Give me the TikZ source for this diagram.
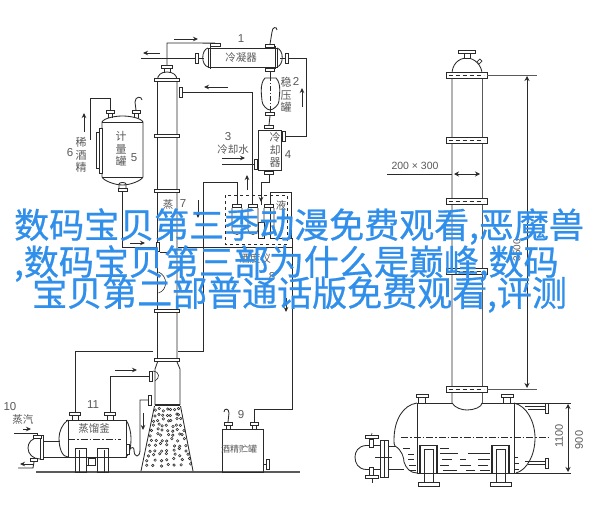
\documentclass[tikz,border=0pt]{standalone}
\usepackage{fontspec}
\setmainfont{Liberation Sans}
\newfontfamily\cjkfont{Noto Sans CJK SC}
\newfontfamily\headfont[FakeBold=0.7]{Noto Sans CJK SC}
\usetikzlibrary{arrows.meta}
\definecolor{ink}{HTML}{2A2A2A}
\definecolor{lbl}{HTML}{5A5A5A}
\definecolor{titleblue}{HTML}{2F8FEA}
\tikzset{
  pipe/.style={draw=ink,line width=0.85pt},
  thin pipe/.style={draw=ink,line width=0.6pt},
  greyline/.style={draw=lbl,line width=1pt},
  flow/.style={draw=ink,line width=0.9pt,-{Stealth[length=5pt,width=4.5pt]}},
  dimen/.style={draw=ink,line width=0.8pt,{Stealth[length=5pt,width=5pt]}-{Stealth[length=5pt,width=5pt]}},
  flange/.style={draw=ink,line width=0.8pt,fill=white,inner sep=0pt,minimum width=#1,minimum height=3pt},
  vflange/.style={draw=ink,line width=0.8pt,fill=white,inner sep=0pt,minimum height=#1,minimum width=3pt},
  band/.style={draw=ink,line width=0.8pt,fill=white,inner sep=0pt,minimum width=41pt,minimum height=6pt},
  cjk/.style={font=\cjkfont\fontsize{10.5}{12}\selectfont,text=lbl,inner sep=0pt},
  vcjk/.style={font=\cjkfont\fontsize{11}{12.6}\selectfont,text=lbl,inner sep=0pt,align=center},
  num/.style={font=\fontsize{11.5}{13}\selectfont,text=lbl,inner sep=0pt},
  headline/.style={font=\headfont\fontsize{35}{38}\selectfont,text=titleblue,inner sep=0pt,anchor=west},
}
\begin{document}
\begin{tikzpicture}[x=1pt,y=-1pt]
\useasboundingbox (0,0) rectangle (604,506);
\fill[white] (0,0) rectangle (604,506);

% ground
\coordinate (gndL) at (36,472);
\coordinate (gndR) at (300,472);
\draw[draw=lbl,line width=1.2pt] (gndL) -- (gndR);

% ---------- main column ----------
\draw[pipe] (157.5,80) .. controls (157.5,75) and (161,72) .. (167,72) .. controls (173,72) and (177,75) .. (177,80);
\draw[pipe] (157.5,80) -- (157.5,362) -- (155,369) -- (155,405);
\draw[pipe] (177,80) -- (177,362) -- (180,369) -- (180,405);
\draw[pipe] (164,68) -- (164,73) (170,68) -- (170,73);
\node[flange=11pt] (coltop) at (167,67) {};
\foreach \y/\n in {80/a,136/b,191/c,311/d,360/e}
  \node[flange=25pt] (colband\n) at (167,\y) {};
\draw[draw=ink,line width=1.3pt] (155,405) -- (180,405);
\draw[pipe] (154.5,406) -- (141,471);
\draw[pipe] (180.5,406) -- (193,471);
\draw[thin pipe] (158.5,272) .. controls (168,276) and (168,290) .. (158.5,293);
\draw[thin pipe] (160,252) -- (170,252);
% packing
\pgfmathsetseed{4242}
\foreach \r in {0,...,11}{
  \pgfmathsetmacro{\yy}{410+\r*5}
  \pgfmathsetmacro{\hw}{13+\r*1.05}
  \foreach \k in {-3,...,3}{
    \pgfmathsetmacro{\xx}{167.5+\k*\hw/3.4+rnd*3-1.5}
    \pgfmathsetmacro{\yz}{\yy+rnd*3-1.5}
    \draw[draw=ink,line width=0.55pt] (\xx,\yz) circle (1.25pt);
  }
}

% ---------- condenser 1 ----------
\node[draw=ink,line width=0.9pt,inner sep=0pt,minimum width=69pt,minimum height=19pt] (cond) at (242.5,57.5) {};
\node[cjk,font=\cjkfont\fontsize{10.5}{12}\selectfont] (condtext) at (241,58) {冷凝器};
\node[num] (n1) at (241,39) {1};
\draw[pipe] (208,48) .. controls (201,50) and (201,65) .. (208,67);
\draw[pipe] (277,48) .. controls (284,50) and (284,65) .. (277,67);
\draw[thin pipe] (210,46) -- (210,69) (275,46) -- (275,69);
\node[vflange=10pt] (condL) at (197,58) {};
\node[vflange=10pt] (condR) at (287,58) {};
\node[flange=10pt] (condT1) at (215,45) {};
\node[flange=9pt] (condT2) at (270,46) {};
\node[flange=9pt] (condB) at (270,70) {};
\draw[pipe] (condL.east) -- (204,58);
\draw[pipe] (condR.west) -- (280,58);
% overhead vapour
\draw[pipe] (coltop.north) -- (167,43) -- (condT1.north);
\coordinate (ventL) at (141,58);
\draw[pipe] (ventL) -- (condL.west);
\draw[flow] (174,39) -- (198,39);
\draw[flow] (160,53) -- (143,53);
% hook
\draw[pipe] (condT2.north) -- (272,32) .. controls (272,27) and (277,26) .. (277,30);
% to cooler
\node[vflange=10pt] (coolR) at (284,136) {};
\draw[pipe] (condR.east) -- (306,58) -- (306,136) -- (coolR.east);
\draw[flow] (302,107) -- (302,88);

% ---------- surge tank 2 ----------
\draw[pipe] (265,78) .. controls (259,84) and (262,98) .. (262,101) .. controls (262,105) and (267,110) .. (270,110) .. controls (273,110) and (279,105) .. (279,101) .. controls (279,96) and (282,84) .. (276,78) -- cycle;
\draw[thin pipe,dash pattern=on 5pt off 2pt on 1pt off 2pt] (270.5,76) -- (270.5,112);
\node[flange=9pt] (surgeB) at (270,114) {};
\draw[pipe] (condB.south) -- (270,78);
\draw[pipe] (surgeB.north) -- (270,110);
\node[vcjk] (surgetext) at (286,95) {稳\\压\\罐};
\node[num] (n2) at (296,81) {2};

% ---------- cooler 4 ----------
\node[draw=ink,line width=0.9pt,inner sep=0pt,minimum width=23pt,minimum height=40pt] (cooler) at (269.5,150) {};
\node[flange=9pt] (coolT) at (269,127) {};
\node[flange=9pt] (coolB) at (269,173) {};
\draw[pipe] (surgeB.south) -- (coolT.north);
\draw[pipe] (coolR.west) -- (cooler.east |- coolR);
\node[vflange=10pt] (coolL) at (256,164) {};
\node[vcjk] (cooltext) at (275,150) {冷\\却\\器};
\node[num] (n4) at (288,155) {4};
\node[num] (n3) at (228,137) {3};
\node[cjk] (watertext) at (233,150) {冷却水};
\coordinate (waterin) at (222,164);
\draw[pipe] (waterin) -- (coolL.west);
\draw[flow] (222,158) -- (245,158);

% return to column
\node[vflange=10pt] (colN1) at (181,92) {};
\draw[pipe] (colN1.east) -- (252,92) -- (252,205);
\draw[flow] (228,87) -- (204,87);
\draw[flow] (247,190) -- (247,175);
\draw[pipe] (coolB.south) -- (269,182) -- (261,182) -- (261,205);
\draw[flow] (261,190) -- (261,202);

% ---------- dashed instrument box ----------
\draw[draw=ink,line width=0.8pt,rounded corners=0pt] (270,192) rectangle (291,238);
\draw[draw=ink,line width=0.9pt,dashed,fill=none] (225,195) rectangle (287,244);
\foreach \x/\n in {237/a,253/b,269/c}{
  \node[flange=9pt] (gauge\n) at (\x,206) {};
  \draw[thin pipe] (\x-5,208) .. controls (\x-5,212) and (\x-5,230) .. (\x-5,230) .. controls (\x-5,236) and (\x+5,236) .. (\x+5,230) -- (\x+5,208);
}
\draw[pipe,fill=white] (258,222) rectangle (264,238);
\node[cjk] (liqtext) at (281,205) {液};
\draw[pipe] (gaugea.north) -- (237,182) -- (203,182) -- (203,351) -- (178,351);
\draw[flow] (198,200) -- (198,218);
\coordinate (gapR) at (153,351);
\draw[pipe] (gapR) -- (75,351) -- (75,414);

% ---------- metering tank 5 ----------
\draw[pipe] (102,122) .. controls (104,118) and (115,116) .. (122.5,116) .. controls (130,116) and (141,118) .. (143,122) -- (143,177) .. controls (141,181) and (130,185) .. (122.5,185) .. controls (115,185) and (104,181) .. (102,177) -- cycle;
\draw[thin pipe] (102,122) -- (143,122) (102,177) -- (143,177);
\draw[pipe,fill=white] (99,128) rectangle (102,173);
\draw[pipe,fill=white] (96.5,132) rectangle (99,168);
\node[flange=8pt] (tank5a) at (110,112) {};
\node[flange=8pt] (tank5b) at (136,112) {};
\draw[pipe] (108,113) -- (108,118) (112,113) -- (112,118);
\draw[pipe] (134,113) -- (134,118) (138,113) -- (138,118);
\node[flange=9pt] (tank5c) at (122.5,190) {};
\draw[pipe] (119,189) -- (119,184) .. controls (119,182) and (126,182) .. (126,184) -- (126,189);
\coordinate (alcoholup) at (90,140);
\draw[pipe] (tank5a.north) -- (110,98) -- (90,98) -- (alcoholup);
\draw[pipe] (tank5b.north) -- (135,102) .. controls (135,96) and (142,96) .. (142,100);
\draw[flow] (84,132) -- (84,113);
\node[vcjk] (tank5text) at (121,149) {计\\量\\罐};
\node[num] (n5) at (134,158) {5};
\node[vcjk] (dilute) at (81,155) {稀\\酒\\精};
\node[num] (n6) at (70,153) {6};
\node[vflange=9pt] (colfeed) at (158,247) {};
\draw[pipe] (tank5c.south) -- (122.5,247) -- (colfeed.west);
\draw[flow] (130,243) -- (145,243);
\draw[pipe] (178,247) -- (292,247);
\node[cjk] (steamtext7) at (168,205) {蒸};
\node[num] (n7) at (183,204) {7};
\node[cjk] (metertext) at (255,258) {酒度仪};
\node[num] (n8) at (272,277) {8};

% ---------- still 11 ----------
\draw[pipe] (68,420) .. controls (62,424) and (59,432) .. (59,438) .. controls (59,450) and (63,457) .. (68,457);
\draw[pipe] (126,420) .. controls (129,424) and (131,432) .. (131,438) .. controls (131,449) and (129,455) .. (126,457);
\draw[pipe] (66,420) -- (127,420);
\draw[pipe] (66,457) -- (127,457);
\draw[pipe] (68,420) -- (68,457) (126,420) -- (126,457);
\draw[draw=ink,line width=0.7pt,dash pattern=on 7pt off 2pt on 1.5pt off 2pt] (68,439) -- (121,439);
\node[font=\cjkfont\fontsize{10.5}{12}\selectfont,text=lbl,inner sep=0pt] (stilltext) at (94,429) {蒸馏釜};
\node[num] (n11) at (93,405) {11};
\node[flange=11pt] (stillA) at (75,414) {};
\node[flange=11pt] (stillB) at (110,414) {};
\draw[pipe] (72,416) -- (72,420) (78,416) -- (78,420);
\draw[pipe] (107,416) -- (107,420) (113,416) -- (113,420);
\draw[pipe] (75,448) rectangle (86,472);
\draw[pipe] (97,448) rectangle (108,472);
\draw[pipe] (79,450) -- (79,472) (104,450) -- (104,472);
\draw[pipe,fill=white] (88,458) rectangle (95,465);
\draw[pipe] (87,465) -- (96,465);
\node[vflange=10pt] (colN2) at (151,376) {};
\draw[pipe] (stillB.north) -- (110,376) -- (colN2.west);
\draw[flow] (115,370) -- (137,370);
% trap
\node[vflange=10pt] (colN3) at (150,400) {};
\node[vflange=10pt] (stillD) at (128,449) {};
\draw[pipe] (colN3.west) -- (140,400) -- (140,450) .. controls (140,458) and (134,458) .. (134,450) .. controls (134,447) and (132,447) .. (stillD.east);
\draw[flow] (143,413) -- (143,430);
% bubble
\draw[thin pipe] (153,371) .. controls (160,372) and (160,378) .. (155,381);
% steam exchanger 10
\draw[pipe] (40,437) .. controls (31,438) and (28,443) .. (28,448) .. controls (28,454) and (33,459) .. (40,459);
\draw[pipe,fill=white] (40,435) rectangle (43,459);
\draw[pipe] (43,441) -- (60,441);
\draw[pipe] (43,457) -- (68,457);
\node[flange=8pt] (hxT) at (37,437) {};
\node[flange=7pt] (hxB) at (34,460) {};
\coordinate (steamin) at (14,433);
\draw[pipe] (steamin) -- (37,433) -- (hxT.north);
\coordinate (condout) at (18,468);
\draw[pipe] (hxB.south) -- (33,468) -- (condout);
\draw[flow] (23,429) -- (31,429);
\draw[flow] (33,464) -- (20,464);
\node[num] (n10) at (10,407) {10};
\node[cjk] (steamtext) at (23,420) {蒸汽};

% ---------- storage tank 9 ----------
\node[draw=ink,line width=0.8pt,inner sep=0pt,minimum width=41pt,minimum height=43pt] (store) at (242.5,450.5) {};
\node[font=\cjkfont\fontsize{9}{10}\selectfont,text=lbl,inner sep=0pt] (storetext) at (239,449) {酒精贮罐};
\node[num] (n9) at (241,415) {9};
\node[flange=8pt] (storeA) at (228,424) {};
\node[flange=8pt] (storeB) at (254,424) {};
\draw[pipe] (226,425) -- (226,429) (230,425) -- (230,429);
\draw[pipe] (252,425) -- (252,429) (256,425) -- (256,429);
\draw[pipe] (storeA.north) -- (229,413) .. controls (229,408) and (224,408) .. (224,412);
\draw[pipe] (storeB.north) -- (254,409) -- (292,409) -- (292,238);
\draw[flow] (286,298) -- (286,312);
\node[vflange=10pt] (storeC) at (268,464) {};
\draw[pipe] (store.east |- storeC) -- (storeC.west);

% ---------- right column ----------
\draw[pipe] (452,74) .. controls (452,65) and (458,58) .. (467,58) .. controls (474,58) and (482,65) .. (482,74);
\draw[pipe] (452,74) -- (452,403) .. controls (455,408) and (462,410) .. (467,410) .. controls (474,410) and (482,407) .. (482,403);
\draw[greyline] (482,74) -- (482,403);
\draw[pipe,fill=white] (464,53) rectangle (470,58.5);
\node[flange=17pt] (rtop) at (466.5,51.5) {};
\draw[thin pipe,fill=white,rotate around={45:(479.5,61.5)}] (477.5,60) rectangle (481.5,63);
\foreach \y/\n in {75/a,140/b,201/c,271/d,389/e}{
  \node[band] (rband\n) at (466.5,\y) {};
  \draw[draw=ink,line width=0.7pt,dashed,dash pattern=on 4pt off 3pt] (rband\n.west) ++(3pt,0) -- ++(35pt,0);
}
\coordinate (dimTop) at (537,75);
\coordinate (dimBot) at (537,389);
\draw[greyline] (rbanda.east) -- (dimTop);
\draw[greyline] (rbande.east) -- (dimBot);
\draw[dimen] (527,76) -- (527,388);
\node[num,rotate=90,font=\fontsize{10}{12}\selectfont] (hlabel) at (517,250) {3500};
\coordinate (lead) at (387,174);
\draw[pipe] (lead) -- (452,174);
\draw[dimen] (454,174) -- (480,174);
\node[font=\fontsize{10.5}{12}\selectfont,text=lbl,inner sep=0pt] (sizetext) at (415,166) {200 × 300};

% ---------- horizontal vessel ----------
\draw[pipe] (417,403) -- (452,403) (482,403) -- (571,403);
\draw[pipe] (417,473) -- (571,473);
\draw[pipe] (417,403) -- (417,473) (514,403) -- (514,473);
\draw[pipe] (417,403) .. controls (403,405) and (394,420) .. (394,440) .. controls (394,443) and (394,445) .. (395,446) .. controls (402,450) and (404,458) .. (404,462) .. controls (406,468) and (410,473) .. (417,473);
\draw[pipe] (514,403) .. controls (527,406) and (535,422) .. (535,438) .. controls (535,455) and (527,470) .. (516,473);
\draw[draw=ink,line width=0.7pt,dash pattern=on 7pt off 2pt on 1.5pt off 2pt] (401,437.5) -- (550,437.5);
\node[flange=12pt] (vesA) at (422,396) {};
\node[flange=12pt] (vesB) at (507,396) {};
\draw[pipe] (418.5,398) -- (418.5,403) (425.5,398) -- (425.5,403);
\draw[pipe] (503.5,398) -- (503.5,403) (510.5,398) -- (510.5,403);
\foreach \x/\xa/\xb in {420/424/433,492/496/505}{
  \draw[pipe,line width=1.2pt] (\x,473) -- (\x,445.5) -- (\x+17,445.5) -- (\x+17,473);
  \draw[pipe] (\xa,449) rectangle (\xb,482);
  \draw[pipe,fill=white] (\xa-6,482) rectangle (\xb+6,486);
}
\foreach \a/\b/\y in {403/410/448,440/449/448,408/414/454,440/458/453,468/490/453,408/414/459,442/452/459,460/466/459,478/490/459,409/416/465,440/449/465,460/471/465,478/488/465,409/416/470,443/457/470,466/475/470,480/490/470,514/518/457,514/519/463,514/519/469}{
  \draw[thin pipe] (\a,\y) -- (\b,\y);
}
\foreach \y/\n in {408/p,463/q}{
  \node[vflange=10pt] (ves\n) at (546.5,\y) {};
  \draw[pipe] (525,\y-1.5) -- (545,\y-1.5) (528,\y+1.5) -- (545,\y+1.5);
}
\draw[dimen] (568,404) -- (568,472);
\node[num,rotate=90,font=\fontsize{11}{13}\selectfont] (d1100) at (559,436) {1100};
\node[num,rotate=90,font=\fontsize{11}{13}\selectfont] (d900) at (579,440) {900};
% exchanger
\draw[pipe] (366,445.5) .. controls (358,446) and (355,452) .. (355,457) .. controls (355,463) and (358,469) .. (366,469.5) -- (380,469.5);
\draw[pipe] (366,445.5) -- (380,445.5);
\draw[pipe,fill=white] (380,440) rectangle (388,477);
\draw[thin pipe] (384,440) -- (384,477);
\draw[pipe] (388,446) -- (396,446);
\draw[pipe] (388,469.5) -- (404,469.5);
\draw[thin pipe] (375,457) -- (392,457);
\node[flange=13pt] (hx2T) at (371.5,437) {};
\node[flange=13pt] (hx2B) at (371.5,477) {};
\draw[pipe,fill=white] (369.5,439) rectangle (373.5,447);
\draw[pipe,fill=white] (369.5,467) rectangle (373.5,475.5);
\draw[thin pipe] (372,433) -- (hx2T.north);
\draw[thin pipe] (372,478.5) -- (372,483);

% ---------- headline ----------
\node[headline] (line1) at (14,226.5) {数码宝贝第三季动漫免费观看,恶魔兽};
\node[headline] (line2) at (14,263.5) {,数码宝贝第三部为什么是巅峰,数码};
\node[headline] (line3) at (32,294.5) {宝贝第二部普通话版免费观看,评测};
\end{tikzpicture}
\end{document}
